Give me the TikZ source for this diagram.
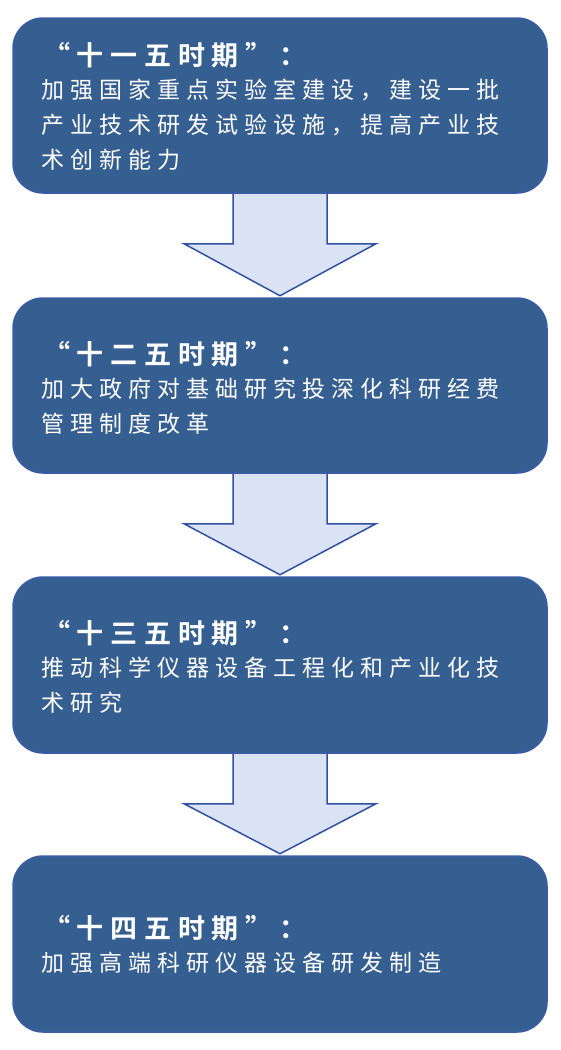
\documentclass[tikz,border=0pt]{standalone}
\usepackage{fontspec}
\newfontfamily\bodyfont[LetterSpace=26]{Noto Sans CJK SC}
\newfontfamily\titlefont[LetterSpace=25]{Noto Sans CJK SC Bold}
\usetikzlibrary{calc,backgrounds}
\definecolor{boxfill}{HTML}{365F91}
\definecolor{boxline}{HTML}{3A5DA6}
\definecolor{arrfill}{HTML}{DAE3F3}
\definecolor{arrline}{HTML}{2F52A0}
\tikzset{
  stage/.style={draw=boxline, fill=boxfill, line width=1.5pt, rounded corners=30pt,
    minimum width=534pt, inner sep=0pt},
  stagetitle/.style={anchor=base west, inner sep=0pt, text=white,
    font=\titlefont\fontsize{27pt}{27pt}\selectfont},
  stagebody/.style={anchor=base west, inner sep=0pt, text=white,
    font=\bodyfont\fontsize{23pt}{23pt}\selectfont},
  blockarrow/.style={draw=arrline, fill=arrfill, line width=1.5pt, line join=miter},
}
\begin{document}
\begin{tikzpicture}[x=1pt,y=-1pt]
\useasboundingbox (0,0) rectangle (561,1050);
% stage boxes
\node[stage, minimum height=175pt] (b1) at (280,105.5) {};
\node[stage, minimum height=175pt] (b2) at (280,385.5) {};
\node[stage, minimum height=176pt] (b3) at (280,665) {};
\node[stage, minimum height=176pt] (b4) at (280,944) {};
% block arrows between boxes
\begin{scope}[on background layer]
\foreach \u/\v in {b1/b2,b2/b3,b3/b4}{
  \draw[blockarrow]
    ($(\u.south)+(-47,-4)$) -- ($(\u.south)+(-47,50)$) -- ($(\u.south)+(-96,50)$)
    -- ($(\v.north)+(0,-1.5)$)
    -- ($(\u.south)+(96,50)$) -- ($(\u.south)+(47,50)$) -- ($(\u.south)+(47,-4)$) -- cycle;
}
\end{scope}
% texts
\node[stagetitle] (t1) at (43,65) {“十一五时期”：};
\node[stagebody] (t1a) at (41.5,98.8) {加强国家重点实验室建设，建设一批};
\node[stagebody] (t1b) at (41.5,133.8) {产业技术研发试验设施，提高产业技};
\node[stagebody] (t1c) at (41.5,168.8) {术创新能力};

\node[stagetitle] (t2) at (43,364) {“十二五时期”：};
\node[stagebody] (t2a) at (41.5,397.8) {加大政府对基础研究投深化科研经费};
\node[stagebody] (t2b) at (41.5,432.8) {管理制度改革};

\node[stagetitle] (t3) at (43,643) {“十三五时期”：};
\node[stagebody] (t3a) at (41.5,676.8) {推动科学仪器设备工程化和产业化技};
\node[stagebody] (t3b) at (41.5,711.8) {术研究};

\node[stagetitle] (t4) at (43,938) {“十四五时期”：};
\node[stagebody] (t4a) at (41.5,971.8) {加强高端科研仪器设备研发制造};
\end{tikzpicture}
\end{document}
